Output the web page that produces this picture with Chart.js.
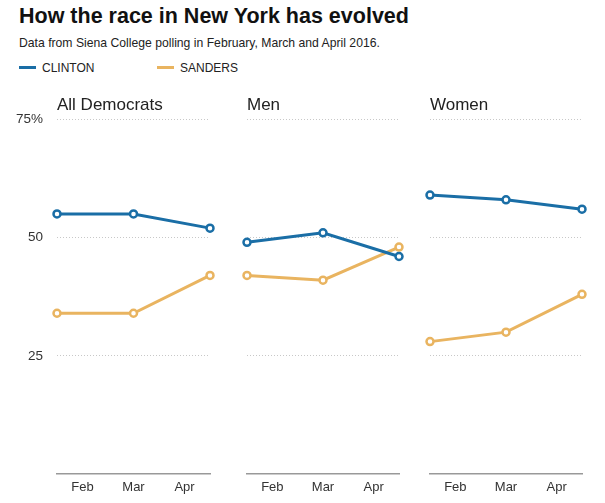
<!DOCTYPE html>
<html>
<head>
<meta charset="utf-8">
<script src="https://cdn.jsdelivr.net/npm/chart.js@4.4.1/dist/chart.umd.min.js"></script>
<style>
  body { margin: 0; background: #fff; font-family: "Liberation Sans", Arial, sans-serif; color: #222; }
  #wrap { position: relative; width: 605px; height: 503px; overflow: hidden; }
  .box { position: absolute; }
  h1 { position: absolute; left: 19px; top: 4px; margin: 0; font-size: 21.5px; font-weight: bold; color: #111; white-space: nowrap; }
  .sub { position: absolute; left: 19px; top: 36px; font-size: 12.2px; color: #222; white-space: nowrap; }
  .leg { position: absolute; top: 61px; font-size: 12px; color: #222; white-space: nowrap; }
  .leg span { display: inline-block; width: 17px; height: 3px; vertical-align: middle; margin-right: 6px; position: relative; top: -1px; }
</style>
</head>
<body>
<div id="wrap">
  <h1>How the race in New York has evolved</h1>
  <div class="sub">Data from Siena College polling in February, March and April 2016.</div>
  <div class="leg" style="left:19px"><span style="background:#1a6ea6"></span>CLINTON</div>
  <div class="leg" style="left:157px"><span style="background:#e9b460"></span>SANDERS</div>
  <div class="box" style="left:0px;top:85px"><canvas id="c_all" width="220" height="418"></canvas></div>
  <div class="box" style="left:239px;top:85px"><canvas id="c_men" width="170" height="418"></canvas></div>
  <div class="box" style="left:422px;top:85px"><canvas id="c_women" width="170" height="418"></canvas></div>
</div>
<script>
// data
const months = ['Feb', 'Mar', 'Apr'];
const panelTitles = ['All Democrats', 'Men', 'Women'];
const clintonAll = [55, 55, 52];
const sandersAll = [34, 34, 42];
const clintonMen = [49, 51, 46];
const sandersMen = [42, 41, 48];
const clintonWomen = [59, 58, 56];
const sandersWomen = [28, 30, 38];
const yTicks = [0, 25, 50, 75];
const yTickLabels = ['', '25', '50', '75%'];

const CLINTON = '#1a6ea6';
const SANDERS = '#e9b460';

function lineSet(label, values, color) {
  return {
    label: label,
    data: values,
    borderColor: color,
    backgroundColor: '#fff',
    borderWidth: 3,
    pointRadius: 3.5,
    pointBorderWidth: 2.5,
    pointBackgroundColor: '#fff',
    pointBorderColor: color,
    tension: 0
  };
}

function createDrawChart(id, title, clinton, sanders, showTicks) {
  const ctx = document.getElementById(id).getContext('2d');
  return new Chart(ctx, {
    type: 'line',
    data: {
      labels: months,
      datasets: [lineSet('CLINTON', clinton, CLINTON), lineSet('SANDERS', sanders, SANDERS)]
    },
    options: {
      responsive: false,
      animation: false,
      layout: { padding: { left: showTicks ? 0 : 8, right: 10, top: 0, bottom: 0 } },
      plugins: {
        legend: { display: false },
        tooltip: { enabled: false },
        title: {
          display: true,
          text: title,
          align: 'start',
          fullSize: false,
          color: '#222',
          font: { family: '"Liberation Sans", Arial, sans-serif', size: 17, weight: 'normal' },
          padding: { top: 10, bottom: 4 }
        }
      },
      scales: {
        x: {
          type: 'category',
          offset: false,
          display: false
        },
        xl: {
          type: 'category',
          position: 'bottom',
          labels: months,
          offset: true,
          grid: { display: false, drawTicks: false },
          border: { display: true, color: '#999', width: 1.5 },
          ticks: { color: '#333', padding: 6, font: { family: '"Liberation Sans", Arial, sans-serif', size: 13 } },
          afterFit: function(s) { s.height = 29; }
        },
        y: {
          min: 0,
          max: 75,
          afterBuildTicks: function(s) { s.ticks = yTicks.map(v => ({ value: v })); },
          grid: {
            drawTicks: false,
            color: c => c.tick.value === 0 ? 'rgba(0,0,0,0)' : '#c8c8c8',
            lineWidth: 1
          },
          border: { display: false, dash: [1, 2] },
          ticks: {
            display: showTicks,
            padding: 14,
            color: '#333',
            font: { family: '"Liberation Sans", Arial, sans-serif', size: 13.5 },
            callback: function(v) { return yTickLabels[yTicks.indexOf(v)]; }
          },
          afterFit: function(s) { s.width = showTicks ? 57 : 0; }
        }
      }
    }
  });
}

document.addEventListener('DOMContentLoaded', function() {
  createDrawChart('c_all', panelTitles[0], clintonAll, sandersAll, true);
  createDrawChart('c_men', panelTitles[1], clintonMen, sandersMen, false);
  createDrawChart('c_women', panelTitles[2], clintonWomen, sandersWomen, false);
});
</script>
</body>
</html>
